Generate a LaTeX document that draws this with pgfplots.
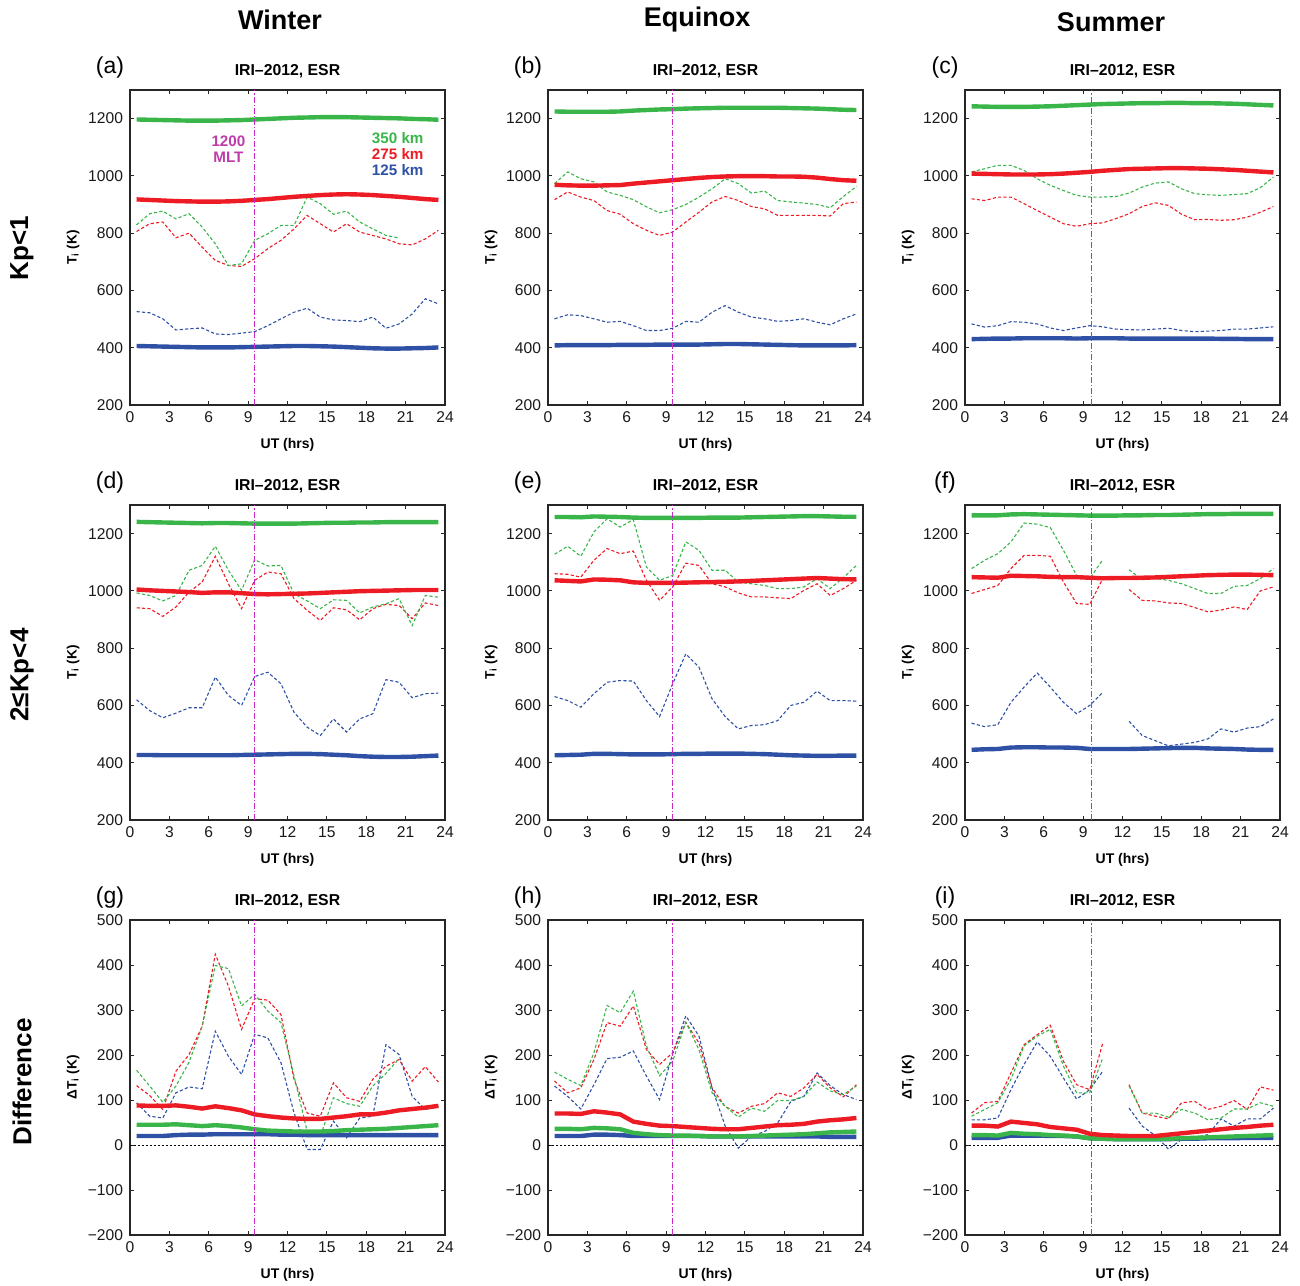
\documentclass[border=0pt]{standalone}
\usepackage{fontspec}
\setmainfont{Liberation Sans}
\usepackage{pgfplots}
\usepackage{pgfplotstable}
\pgfplotsset{compat=1.18}
\definecolor{colG}{RGB}{57,181,74}
\definecolor{colR}{RGB}{237,28,36}
\definecolor{colB}{RGB}{46,80,165}
\definecolor{colM}{RGB}{200,40,200}
\definecolor{colMT}{RGB}{190,60,170}

\pgfplotstableread{
x gs rs bs gd rd bd
0.5 1197 918 406 829 806 526
1.5 1196 916 405 868 833 522
2.5 1195 914 404 877 839 501
3.5 1194 912 403 850 784 462
4.5 1193 911 402 868 800 466
5.5 1193 910 401 821 751 469
6.5 1193 910 401 763 705 448
7.5 1194 911 401 687 687 446
8.5 1195 913 402 693 684 451
9.5 1197 916 403 775 711 456
10.5 1199 919 404 798 746 477
11.5 1201 923 405 827 775 501
12.5 1203 927 406 827 815 524
13.5 1204 930 406 926 862 538
14.5 1205 933 405 903 833 507
15.5 1205 935 404 866 804 497
16.5 1205 936 402 877 833 495
17.5 1204 935 400 839 804 491
18.5 1203 933 398 815 792 507
19.5 1202 930 397 792 780 468
20.5 1201 927 397 783 763 483
21.5 1199 923 398 nan 759 518
22.5 1198 919 399 nan 780 571
23.5 1196 916 401 nan 810 553
}\tabA
\pgfplotstableread{
x gs rs bs gd rd bd
0.5 1225 969 408 973 917 501
1.5 1224 967 409 1014 944 515
2.5 1224 966 409 990 926 512
3.5 1224 966 409 979 914 501
4.5 1224 967 409 944 879 489
5.5 1225 968 410 932 866 492
6.5 1228 973 410 917 833 477
7.5 1230 977 410 892 810 460
8.5 1232 981 411 871 792 460
9.5 1233 985 411 882 804 468
10.5 1235 989 411 900 839 492
11.5 1236 993 411 926 873 489
12.5 1237 996 412 955 909 524
13.5 1238 998 413 990 928 547
14.5 1238 999 413 973 914 524
15.5 1238 999 412 940 893 507
16.5 1238 999 411 947 885 501
17.5 1238 998 410 914 862 492
18.5 1237 998 409 909 862 495
19.5 1236 997 408 905 862 501
20.5 1235 994 408 900 862 489
21.5 1233 989 408 889 860 480
22.5 1231 985 408 928 903 501
23.5 1230 983 409 963 909 518
}\tabB
\pgfplotstableread{
x gs rs bs gd rd bd
0.5 1243 1008 430 1014 920 483
1.5 1242 1007 431 1025 914 472
2.5 1241 1006 432 1037 926 477
3.5 1241 1005 432 1037 926 491
4.5 1241 1005 433 1019 903 489
5.5 1242 1005 433 990 879 483
6.5 1243 1006 433 967 856 469
7.5 1245 1008 433 949 833 460
8.5 1247 1011 432 932 824 469
9.5 1249 1014 433 926 833 477
10.5 1251 1018 433 926 836 473
11.5 1252 1021 433 928 851 465
12.5 1253 1024 432 940 868 463
13.5 1254 1025 432 961 893 462
14.5 1254 1026 432 975 906 465
15.5 1255 1027 432 979 897 468
16.5 1255 1027 432 955 866 460
17.5 1254 1026 432 938 847 456
18.5 1254 1025 432 934 848 458
19.5 1253 1023 431 932 845 460
20.5 1252 1021 431 935 847 465
21.5 1250 1018 430 938 856 465
22.5 1248 1015 430 959 873 469
23.5 1246 1012 430 996 893 473
}\tabC
\pgfplotstableread{
x gs rs bs gd rd bd
0.5 1241 1005 427 993 941 620
1.5 1240 1002 427 984 938 582
2.5 1239 1000 426 965 911 557
3.5 1238 998 426 984 944 573
4.5 1237 996 426 1072 996 592
5.5 1236 993 426 1089 1031 592
6.5 1237 995 426 1156 1121 699
7.5 1237 995 426 1072 1025 635
8.5 1236 992 427 1002 938 600
9.5 1235 989 428 1109 1037 701
10.5 1235 988 429 1087 1066 716
11.5 1235 989 430 1089 1060 676
12.5 1235 990 431 990 973 576
13.5 1236 991 431 965 932 524
14.5 1237 993 430 938 897 495
15.5 1238 995 428 969 941 553
16.5 1238 997 426 967 934 507
17.5 1239 999 423 923 899 553
18.5 1239 1000 421 944 938 571
19.5 1240 1001 420 955 953 690
20.5 1240 1002 420 973 949 681
21.5 1240 1003 421 879 903 627
22.5 1240 1003 423 984 958 641
23.5 1240 1003 425 978 949 643
}\tabD
\pgfplotstableread{
x gs rs bs gd rd bd
0.5 1258 1037 426 1128 1060 631
1.5 1258 1035 427 1156 1058 617
2.5 1257 1033 428 1121 1048 594
3.5 1260 1040 431 1206 1107 641
4.5 1259 1039 431 1252 1148 681
5.5 1258 1037 430 1223 1130 687
6.5 1256 1030 429 1249 1139 685
7.5 1255 1028 429 1083 1037 617
8.5 1255 1028 429 1037 967 561
9.5 1255 1028 430 1054 1014 676
10.5 1255 1029 431 1171 1097 780
11.5 1255 1030 431 1142 1089 734
12.5 1256 1031 432 1072 1025 623
13.5 1256 1032 432 1072 1014 561
14.5 1256 1033 432 1031 993 518
15.5 1257 1035 431 1025 979 530
16.5 1258 1037 430 1019 979 533
17.5 1259 1039 428 1008 976 547
18.5 1260 1041 426 1008 973 600
19.5 1261 1043 425 1014 1002 611
20.5 1261 1045 424 1043 1025 650
21.5 1260 1043 424 1008 984 617
22.5 1259 1041 425 1046 1008 617
23.5 1259 1040 425 1089 1037 615
}\tabE
\pgfplotstableread{
x gs rs bs gd rd bd
0.5 1264 1048 445 1078 991 538
1.5 1264 1047 447 1107 1005 526
2.5 1264 1046 448 1130 1019 533
3.5 1267 1053 453 1171 1078 611
4.5 1268 1052 454 1237 1124 664
5.5 1267 1051 454 1233 1124 713
6.5 1266 1049 453 1221 1121 664
7.5 1265 1048 453 1142 1031 611
8.5 1264 1048 452 1054 956 571
9.5 1263 1046 448 1043 953 600
10.5 1263 1044 448 1109 1043 646
11.5 1263 1045 448 nan nan nan
12.5 1264 1045 448 1074 1005 545
13.5 1264 1046 449 1039 967 495
14.5 1265 1047 450 1043 965 477
15.5 1265 1049 451 1037 958 459
16.5 1266 1051 452 1025 956 465
17.5 1267 1053 452 1008 942 471
18.5 1268 1055 450 991 927 483
19.5 1268 1056 449 991 933 518
20.5 1269 1057 448 1016 944 507
21.5 1269 1057 446 1019 935 521
22.5 1269 1056 445 1043 1000 526
23.5 1269 1055 445 1078 1014 553
}\tabF
\pgfplotstableread{
x gs rs bs gd rd bd
0.5 45 88 20 166 132 94
1.5 45 87 20 131 110 64
2.5 45 87 20 95 79 60
3.5 46 88 22 131 164 116
4.5 44 85 23 184 201 129
5.5 42 81 23 264 264 125
6.5 44 86 24 399 424 253
7.5 42 82 24 392 353 197
8.5 39 77 24 309 257 157
9.5 35 68 24 335 325 246
10.5 32 64 24 298 322 238
11.5 31 61 23 272 290 183
12.5 30 59 23 153 146 71
13.5 30 58 22 30 71 -10
14.5 30 58 22 19 64 -10
15.5 31 61 22 105 138 53
16.5 33 64 22 92 105 16
17.5 34 68 22 86 97 60
18.5 35 68 22 131 146 64
19.5 36 72 22 159 175 223
20.5 38 77 22 192 190 201
21.5 40 80 22 nan 142 108
22.5 42 83 22 nan 174 79
23.5 44 87 22 nan 140 86
}\tabG
\pgfplotstableread{
x gs rs bs gd rd bd
0.5 36 70 20 162 142 131
1.5 36 70 20 146 116 108
2.5 35 69 20 132 127 80
3.5 38 75 23 205 190 134
4.5 37 72 23 310 272 192
5.5 35 68 22 294 264 195
6.5 27 52 20 342 309 209
7.5 24 47 20 220 212 153
8.5 22 43 20 154 179 101
9.5 21 42 20 186 205 203
10.5 21 40 20 273 272 287
11.5 20 38 20 212 227 242
12.5 19 36 19 116 127 127
13.5 19 35 19 86 85 42
14.5 19 35 19 62 71 -7
15.5 20 38 19 82 86 19
16.5 21 41 19 75 92 30
17.5 22 44 19 99 116 49
18.5 23 45 19 99 108 97
19.5 24 47 19 108 127 108
20.5 26 52 19 140 157 160
21.5 28 55 18 120 127 132
22.5 29 57 18 112 107 112
23.5 30 60 18 131 134 101
}\tabH
\pgfplotstableread{
x gs rs bs gd rd bd
0.5 22 43 16 64 71 56
1.5 22 43 16 79 94 56
2.5 21 41 16 94 97 60
3.5 27 52 21 146 160 123
4.5 25 49 21 220 223 179
5.5 24 46 21 242 245 229
6.5 22 40 20 257 266 197
7.5 21 37 20 175 186 149
8.5 19 34 19 116 134 102
9.5 15 25 15 116 123 123
10.5 14 22 14 194 227 164
11.5 13 21 13 nan nan nan
12.5 13 20 13 131 134 82
13.5 13 20 13 71 71 42
14.5 13 20 13 71 64 21
15.5 14 23 13 62 58 -9
16.5 15 26 14 79 94 12
17.5 16 29 14 71 97 16
18.5 17 32 15 56 79 23
19.5 18 35 15 60 86 58
20.5 19 38 15 80 99 42
21.5 20 40 16 80 79 58
22.5 21 43 16 94 129 58
23.5 22 45 16 86 122 82
}\tabI

\pgfplotsset{
  panel/.style={
    scale only axis, width=157.5pt, height=157.5pt, anchor=south west,
    xmin=0, xmax=24, xtick={0,3,...,24},
    tick align=inside, major tick length=2pt,
    axis line style={line width=0.6pt, black!85},
    every tick/.style={black!85, line width=0.5pt},
    tick label style={font=\fontsize{7.8}{9}\selectfont, text=black!90},
    /pgf/number format/assume math mode=true,
    /pgf/number format/set thousands separator={},
    clip=false, unbounded coords=jump,
  },
  topy/.style={ymin=200, ymax=1300, ytick={200,400,...,1200}},
  diffy/.style={ymin=-200, ymax=500, ytick={-200,-100,...,500},
    yticklabels={−200,−100,0,100,200,300,400,500}},
  sol/.style={line width=2.2pt},
  dsh/.style={line width=0.55pt, dash pattern=on 1.6pt off 1.1pt},
  mlt/.style={colM, line width=0.5pt, dash pattern=on 3pt off 1pt on 0.6pt off 1pt},
}
\newcommand\myseries[1]{%
  \addplot[colB, dsh] table[x=x,y=bd]{#1};
  \addplot[colR, dsh] table[x=x,y=rd]{#1};
  \addplot[colG, dsh] table[x=x,y=gd]{#1};
  \addplot[colB, sol] table[x=x,y=bs]{#1};
  \addplot[colG, sol] table[x=x,y=gs]{#1};
  \addplot[colR, sol] table[x=x,y=rs]{#1};
}
\newcommand\mylabels[2]{%
  \node[font=\bfseries\fontsize{7}{8}\selectfont] at ([yshift=-20pt]rel axis cs:0.5,0) {UT (hrs)};
  \node[rotate=90, font=\bfseries\fontsize{6.8}{8}\selectfont] at ([xshift=-28.5pt]rel axis cs:0,0.5) {#2};
  \node[font=\bfseries\fontsize{7.9}{9}\selectfont] at ([yshift=9.5pt]rel axis cs:0.5,1) {IRI–2012, ESR};
  \node[font=\fontsize{11.5}{13}\selectfont] at ([xshift=-10pt,yshift=11pt]rel axis cs:0,1) {(#1)};
}
\newcommand\myTI{T\textsubscript{i} (K)}
\newcommand\myDTI{ΔT\textsubscript{i} (K)}

\begin{document}
\begin{tikzpicture}
\path[use as bounding box] (0,0) rectangle (650pt,642.5pt);

% Row 1
\begin{axis}[panel, topy, at={(65pt,440pt)}]
  \myseries{\tabA}
  \addplot[mlt] coordinates {(9.5,200) (9.5,1300)};
  \mylabels{a}{\myTI}
  \node[anchor=east, font=\bfseries\fontsize{7.6}{8}\selectfont, text=colG] at (axis cs:22.9,1132) {350 km};
  \node[anchor=east, font=\bfseries\fontsize{7.6}{8}\selectfont, text=colR] at (axis cs:22.9,1076) {275 km};
  \node[anchor=east, font=\bfseries\fontsize{7.6}{8}\selectfont, text=colB] at (axis cs:22.9,1021) {125 km};
  \node[font=\bfseries\fontsize{7.6}{8}\selectfont, text=colMT] at (axis cs:7.5,1122) {1200};
  \node[font=\bfseries\fontsize{7.6}{8}\selectfont, text=colMT] at (axis cs:7.5,1066) {MLT};
\end{axis}
\begin{axis}[panel, topy, at={(274pt,440pt)}]
  \myseries{\tabB}
  \addplot[mlt] coordinates {(9.5,200) (9.5,1300)};
  \mylabels{b}{\myTI}
\end{axis}
\begin{axis}[panel, topy, at={(482.5pt,440pt)}]
  \myseries{\tabC}
  \addplot[mlt] coordinates {(9.6,200) (9.6,1300)};
  \mylabels{c}{\myTI}
\end{axis}

% Row 2
\begin{axis}[panel, topy, at={(65pt,232.5pt)}]
  \myseries{\tabD}
  \addplot[mlt] coordinates {(9.5,200) (9.5,1300)};
  \mylabels{d}{\myTI}
\end{axis}
\begin{axis}[panel, topy, at={(274pt,232.5pt)}]
  \myseries{\tabE}
  \addplot[mlt] coordinates {(9.5,200) (9.5,1300)};
  \mylabels{e}{\myTI}
\end{axis}
\begin{axis}[panel, topy, at={(482.5pt,232.5pt)}]
  \myseries{\tabF}
  \addplot[mlt] coordinates {(9.6,200) (9.6,1300)};
  \mylabels{f}{\myTI}
\end{axis}

% Row 3
\begin{axis}[panel, diffy, at={(65pt,25pt)}]
  \addplot[black, line width=0.5pt, dash pattern=on 1pt off 1pt] coordinates {(0,0) (24,0)};
  \myseries{\tabG}
  \addplot[mlt] coordinates {(9.5,-200) (9.5,500)};
  \mylabels{g}{\myDTI}
\end{axis}
\begin{axis}[panel, diffy, at={(274pt,25pt)}]
  \addplot[black, line width=0.5pt, dash pattern=on 1pt off 1pt] coordinates {(0,0) (24,0)};
  \myseries{\tabH}
  \addplot[mlt] coordinates {(9.5,-200) (9.5,500)};
  \mylabels{h}{\myDTI}
\end{axis}
\begin{axis}[panel, diffy, at={(482.5pt,25pt)}]
  \addplot[black, line width=0.5pt, dash pattern=on 1pt off 1pt] coordinates {(0,0) (24,0)};
  \myseries{\tabI}
  \addplot[mlt] coordinates {(9.6,-200) (9.6,500)};
  \mylabels{i}{\myDTI}
\end{axis}

% Column and row headers
\node[font=\bfseries\fontsize{13.5}{15}\selectfont] at (140pt,632.5pt) {Winter};
\node[font=\bfseries\fontsize{13.5}{15}\selectfont] at (348.5pt,632.5pt) {Equinox};
\node[font=\bfseries\fontsize{13.5}{15}\selectfont] at (555.5pt,631.5pt) {Summer};
\node[rotate=90, font=\bfseries\fontsize{13}{15}\selectfont] at (11pt,518.5pt) {Kp<1};
\node[rotate=90, font=\bfseries\fontsize{13}{15}\selectfont] at (11pt,305pt) {2≤Kp<4};
\node[rotate=90, font=\bfseries\fontsize{13}{15}\selectfont] at (11pt,101.5pt) {Difference};
\end{tikzpicture}
\end{document}
